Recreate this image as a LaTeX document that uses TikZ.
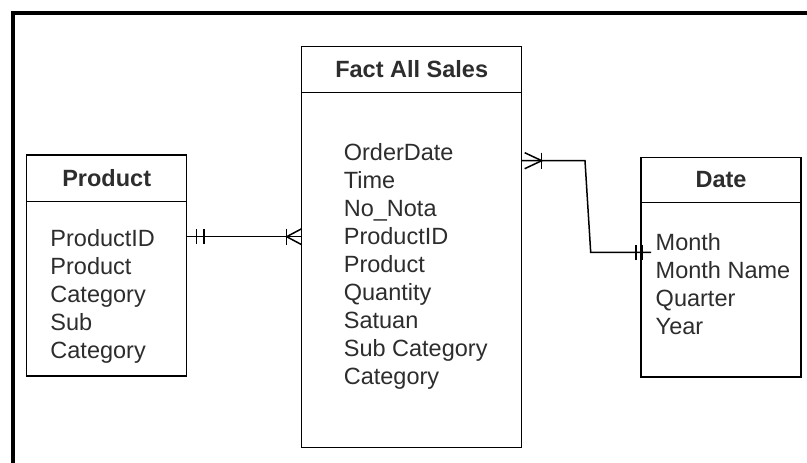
\documentclass[tikz,border=0pt]{standalone}
\usepackage{fontspec}
\setmainfont{Liberation Sans}
\usetikzlibrary{calc,positioning}
\definecolor{itemgray}{RGB}{45,45,45}
\tikzset{
  frame/.style={black, line width=4pt},
  entityhead/.style={draw=black, line width=1.5pt, fill=white,
                     minimum width=160pt, inner sep=0pt, outer sep=0pt,
                     font=\fontsize{23.5}{28}\selectfont\bfseries,
                     text=itemgray},
  entitybody/.style={draw=black, line width=1.5pt, fill=white,
                     minimum width=160pt, inner sep=0pt, outer sep=0pt},
  entitytext/.style={inner sep=0pt, align=left,
                     font=\fontsize{23.5}{28}\selectfont, text=itemgray},
  rel/.style={black, line width=1.5pt},
  ermark/.style={black, line width=1.5pt},
}

\begin{document}
\begin{tikzpicture}[x=1pt,y=-1pt]
  \useasboundingbox (0,0) rectangle (807,463);

  % outer frame, left and top only
  \draw[frame] (13,463) -- (13,13) -- (807,13);

  % Product entity.
  \node[entityhead, minimum height=46.7pt] (prodhead) at (106.7,178.3) {Product};
  \node[entitybody, minimum height=174.3pt, anchor=north] (prodbody)
    at (prodhead.south) {};
  \node[entitytext] (prodtext) at ($(prodbody.center)+(-4,8)$)
    {ProductID\\Product\\Category\\Sub\\Category};

  % Fact entity.
  \node[entityhead, minimum width=220pt, minimum height=45.6pt] (facthead)
    at (411.7,69.5) {Fact All Sales};
  \node[entitybody, minimum width=220pt, minimum height=355.4pt, anchor=north]
    (factbody) at (facthead.south) {};
  \node[entitytext] (facttext) at ($(factbody.center)+(4,-4)$)
    {OrderDate\\Time\\No\_Nota\\ProductID\\Product\\Quantity\\Satuan\\Sub Category\\Category};

  % Date entity.
  \node[entityhead, minimum height=45.4pt] (datehead) at (721,180) {Date};
  \node[entitybody, minimum height=174.3pt, anchor=north] (datebody)
    at (datehead.south) {};
  \node[entitytext] (datetext) at ($(datebody.center)+(2,-6)$)
    {Month\\Month Name\\Quarter\\Year};

  % Product -- Fact (one to many).
  \coordinate (prodR) at (prodbody.east |- 0,236.7);
  \coordinate (factL) at (factbody.west |- 0,236.7);
  \draw[rel] (prodR) -- (factL);
  \draw[ermark] ($(prodR)+(10,-7.5)$) -- ++(0,15);
  \draw[ermark] ($(prodR)+(17.5,-7.5)$) -- ++(0,15);
  \draw[ermark] ($(factL)+(-15,-8)$) -- ++(0,16);
  \draw[ermark] ($(factL)+(0,-8)$) -- ($(factL)+(-15,0)$) -- ($(factL)+(0,8)$);

  % Fact -- Date (many to one).
  \coordinate (factR) at (factbody.east |- 0,160.7);
  \coordinate (dateL) at (datebody.west |- 0,252.3);
  \draw[rel] (factR) -- ($(factR)+(63.3,0)$) -- ($(dateL)+(-50.3,0)$)
    -- ($(dateL)+(10,0)$);
  \draw[ermark] ($(factR)+(3,-8)$) -- ($(factR)+(20,0)$) -- ($(factR)+(3,8)$);
  \draw[ermark] ($(factR)+(20,-8)$) -- ++(0,16);
  \draw[ermark] ($(dateL)+(-5,-7.5)$) -- ++(0,15);
  \draw[ermark] ($(dateL)+(1.5,-7.5)$) -- ++(0,15);
\end{tikzpicture}
\end{document}
